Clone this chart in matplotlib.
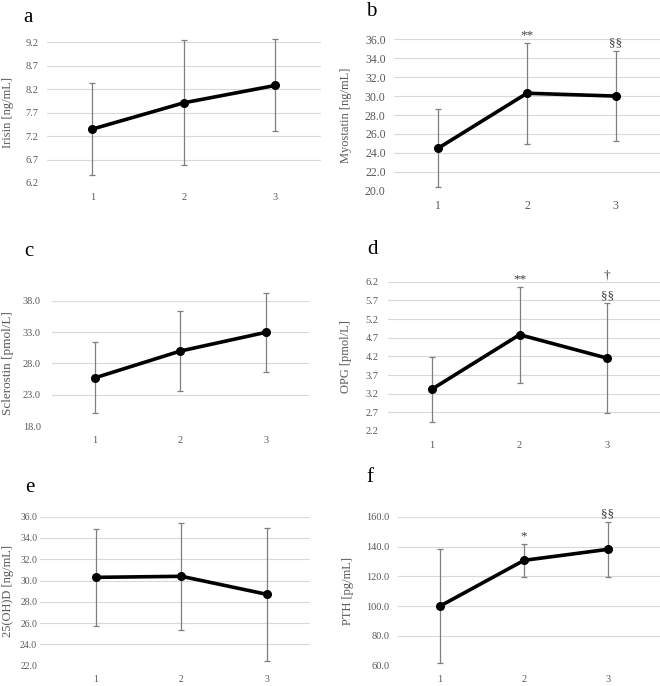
import numpy as np
from matplotlib import pyplot as plt

plt.rcParams['font.family'] = ['Liberation Serif', 'DejaVu Serif']

visits = [1, 2, 3]

# mean and SD per visit
irisin = [7.35, 7.91, 8.28]
irisin_sd = [0.99, 1.33, 0.98]
myostatin = [24.5, 30.3, 30.0]
myostatin_sd = [4.1, 5.35, 4.8]
sclerostin = [25.7, 30.0, 33.0]
sclerostin_sd = [5.7, 6.45, 6.3]
opg = [3.32, 4.78, 4.15]
opg_sd = [0.87, 1.29, 1.47]
vitd = [30.3, 30.4, 28.7]
vitd_sd = [4.55, 5.05, 6.25]
pth = [100.0, 130.7, 138.1]
pth_sd = [38.5, 11.0, 18.6]

irisin_ticks = [6.2, 6.7, 7.2, 7.7, 8.2, 8.7, 9.2]
myostatin_ticks = [20, 22, 24, 26, 28, 30, 32, 34, 36]
sclerostin_ticks = [18, 23, 28, 33, 38]
opg_ticks = [2.2, 2.7, 3.2, 3.7, 4.2, 4.7, 5.2, 5.7, 6.2]
vitd_ticks = [22, 24, 26, 28, 30, 32, 34, 36]
pth_ticks = [60, 80, 100, 120, 140, 160]

# significance marks: (visit index, label)
irisin_marks = [(2, '§')]
myostatin_marks = [(1, '**'), (2, '§§')]
sclerostin_marks = [(2, '§§')]
opg_marks = [(1, '**'), (2, '§§'), (2, '†')]
vitd_marks = []
pth_marks = [(1, '*'), (2, '§§')]

panels = [
    ('a', 'Irisin [ng/mL]', irisin, irisin_sd, irisin_ticks, irisin_marks),
    ('b', 'Myostatin [ng/mL]', myostatin, myostatin_sd, myostatin_ticks, myostatin_marks),
    ('c', 'Sclerostin [pmol/L]', sclerostin, sclerostin_sd, sclerostin_ticks, sclerostin_marks),
    ('d', 'OPG [pmol/L]', opg, opg_sd, opg_ticks, opg_marks),
    ('e', '25(OH)D [ng/mL]', vitd, vitd_sd, vitd_ticks, vitd_marks),
    ('f', 'PTH [pg/mL]', pth, pth_sd, pth_ticks, pth_marks),
]

# layout in pixels: left, right, top, bottom of plot area, x-limits,
# ylabel x, letter x/y, tick font size, tick pad, ylabel size
W, H = 660, 686
boxes = [
    (46.7, 321, 42.3, 183, (0.5, 3.5), 8, 28, 18, 7.5, 6, 9),
    (394, 660, 39.3, 190.7, (0.5, 3.5), 346, 371, 12, 8.5, 6, 9),
    (52, 309, 301, 426, (0.5, 3.5), 8, 29, 252, 7.5, 8, 9.5),
    (388, 660, 281.7, 431, (0.5, 3.6), 346, 372, 250, 7.5, 7, 9),
    (40, 310, 516.7, 665.7, (0.35, 3.5), 8, 30, 487, 7, 2, 9),
    (398, 660, 516.7, 665.7, (0.5, 3.62), 348, 370, 478, 7.5, 6, 9),
]

grey = '#595959'
fig = plt.figure(figsize=(W / 100, H / 100), dpi=100)

for (letter, ylabel, vals, sds, ticks, marks), box in zip(panels, boxes):
    l, r, t, b, xl, ylx, lx, ly, tfs, tpad, lfs = box
    ax = fig.add_axes([l / W, 1 - b / H, (r - l) / W, (b - t) / H])
    cont = ax.errorbar(visits, vals, yerr=sds, color='black', lw=2.6,
                       marker='o', ms=5.5, ecolor='#7f7f7f', elinewidth=0.9,
                       capsize=2.5, capthick=0.9, zorder=3)
    for art in cont.get_children():
        art.set_clip_on(False)
    ax.set_xlim(*xl)
    ax.set_ylim(ticks[0], ticks[-1])
    ax.set_xticks(visits)
    ax.set_xticklabels([str(v) for v in visits])
    ax.set_yticks(ticks)
    ax.set_yticklabels([f'{v:.1f}' for v in ticks])
    ax.tick_params(length=0, labelsize=tfs, colors=grey)
    ax.tick_params(axis='y', pad=tpad)
    ax.tick_params(axis='x', pad=7)
    ax.grid(axis='y', color='#d9d9d9', lw=0.8)
    ax.set_axisbelow(True)
    for s in ax.spines.values():
        s.set_visible(False)
    ax.set_ylabel(ylabel, fontsize=lfs, color=grey, va='center')
    ax.yaxis.set_label_coords(ylx / W, 1 - (t + b) / 2 / H, transform=fig.transFigure)
    fig.text(lx / W, 1 - ly / H, letter, fontsize=15, ha='center', va='center')

    seen = {}
    for i, txt in marks:
        k = seen.get(i, 0)
        seen[i] = k + 1
        ax.annotate(txt, xy=(visits[i], vals[i] + sds[i]),
                    xytext=(0, 1 + 15 * k), textcoords='offset points',
                    ha='center', va='bottom', fontsize=9.5, color='#404040')

fig.savefig('out.png', dpi=100)
